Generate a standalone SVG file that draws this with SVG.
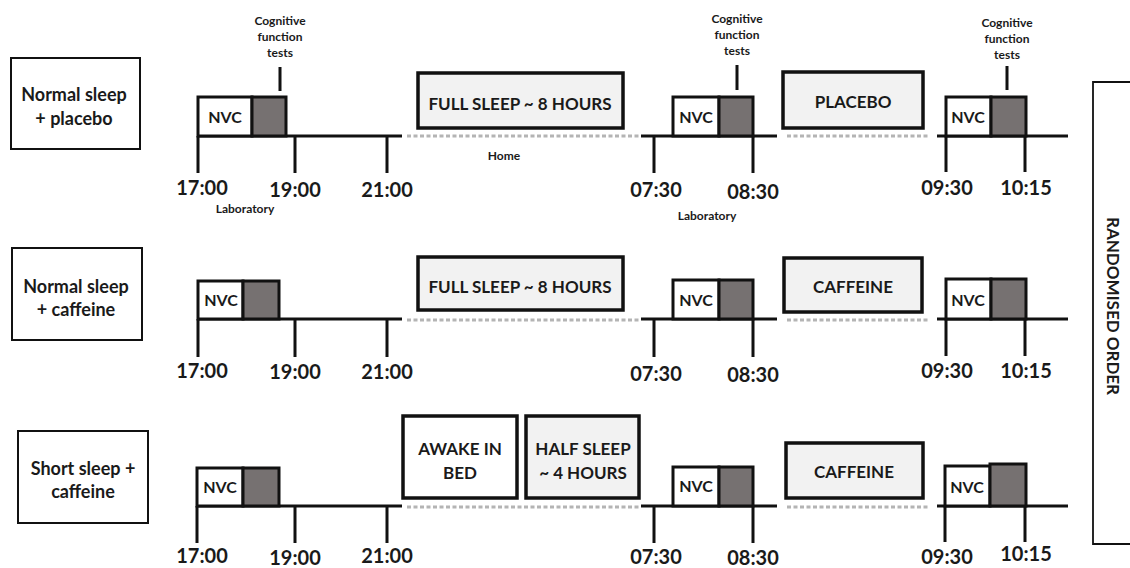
<svg xmlns="http://www.w3.org/2000/svg" width="1130" height="568" viewBox="0 0 1130 568">
<style>
text{font-family:Lato,"Open Sans","Liberation Sans",sans-serif;font-weight:bold;fill:#1a1a1a;text-anchor:middle}
.lbl{fill:#fff;stroke:#111;stroke-width:2}
.act{fill:#f2f2f2;stroke:#111;stroke-width:3.5}
.wht{fill:#fff;stroke:#111;stroke-width:3.5}
.nvc{fill:#fff;stroke:#111;stroke-width:3}
.cog{fill:#767171;stroke:#111;stroke-width:3}
.ln{stroke:#111;stroke-width:3;fill:none}
.dot{stroke:#b4b4b4;stroke-width:3;stroke-dasharray:4 2.5;fill:none}
.t1{font-size:18px}
.tm{font-size:20px}
.sm{font-size:12px}
.bx{font-size:17px}
.nv{font-size:16px}
</style>

<g id="row1-label"><rect class="lbl" x="11" y="58" width="129" height="91"/><text class="t1" x="74" y="101">Normal sleep</text><text class="t1" x="74" y="125">+ placebo</text></g>
<g id="row2-label"><rect class="lbl" x="12" y="248" width="130" height="92"/><text class="t1" x="76" y="293">Normal sleep</text><text class="t1" x="76" y="316">+ caffeine</text></g>
<g id="row3-label"><rect class="lbl" x="18" y="431" width="130" height="92"/><text class="t1" x="83" y="475">Short sleep +</text><text class="t1" x="83" y="498">caffeine</text></g>

<g id="connectors">
<path class="ln" d="M198 136H402M198 136V173M295 136V173M387 136V173M280 67V91"/>
<path class="dot" d="M407 136H640"/>
<path class="ln" d="M641 136H777M654 136V173M753 136V173M737 65V90"/>
<path class="dot" d="M787 136H930"/>
<path class="ln" d="M937 136H1068M946 136V172M1025 136V172M1007 66V90"/>

<path class="ln" d="M198 319H402M198 319V357M295 319V357M387 319V357"/>
<path class="dot" d="M407 320H640"/>
<path class="ln" d="M641 319H777M654 319V357M753 319V357"/>
<path class="dot" d="M787 320H930"/>
<path class="ln" d="M937 319H1068M946 319V356M1025 319V356"/>

<path class="ln" d="M197 506H402M197 506V543M295 506V543M387 506V543"/>
<path class="dot" d="M407 507H640"/>
<path class="ln" d="M641 506H777M654 506V543M753 506V543"/>
<path class="dot" d="M787 507H930"/>
<path class="ln" d="M937 506H1068M945 506V542M1025 506V542"/>
</g>

<g id="row1-nvc1"><rect class="nvc" x="198" y="97" width="54" height="39"/><rect class="cog" x="252" y="97" width="34" height="39"/><text class="nv" x="225" y="123">NVC</text></g>
<g id="row1-nvc2"><rect class="nvc" x="673" y="97" width="46" height="39"/><rect class="cog" x="719" y="97" width="34" height="39"/><text class="nv" x="696" y="123">NVC</text></g>
<g id="row1-nvc3"><rect class="nvc" x="946" y="97" width="45" height="39"/><rect class="cog" x="991" y="97" width="35" height="39"/><text class="nv" x="968" y="123">NVC</text></g>
<g id="row1-sleep"><rect class="act" x="418" y="73" width="205" height="55"/><text class="bx" x="520" y="110">FULL SLEEP ~ 8 HOURS</text></g>
<g id="row1-placebo"><rect class="act" x="783" y="72" width="140" height="56"/><text class="bx" x="853" y="108">PLACEBO</text></g>

<g id="row2-nvc1"><rect class="nvc" x="198" y="281" width="45" height="38"/><rect class="cog" x="243" y="281" width="36" height="38"/><text class="nv" x="221" y="306">NVC</text></g>
<g id="row2-nvc2"><rect class="nvc" x="673" y="280" width="46" height="39"/><rect class="cog" x="719" y="280" width="34" height="39"/><text class="nv" x="696" y="306">NVC</text></g>
<g id="row2-nvc3"><rect class="nvc" x="946" y="279" width="45" height="40"/><rect class="cog" x="991" y="279" width="35" height="40"/><text class="nv" x="968" y="306">NVC</text></g>
<g id="row2-sleep"><rect class="act" x="418" y="257" width="205" height="53"/><text class="bx" x="520" y="293">FULL SLEEP ~ 8 HOURS</text></g>
<g id="row2-caffeine"><rect class="act" x="784" y="258" width="138" height="54"/><text class="bx" x="853" y="293">CAFFEINE</text></g>

<g id="row3-nvc1"><rect class="nvc" x="197" y="468" width="46" height="38"/><rect class="cog" x="243" y="468" width="36" height="38"/><text class="nv" x="220" y="493">NVC</text></g>
<g id="row3-nvc2"><rect class="nvc" x="673" y="467" width="46" height="39"/><rect class="cog" x="719" y="467" width="34" height="39"/><text class="nv" x="696" y="492">NVC</text></g>
<g id="row3-nvc3"><rect class="nvc" x="945" y="466" width="45" height="40"/><rect class="cog" x="990" y="464" width="36" height="42"/><text class="nv" x="967" y="493">NVC</text></g>
<g id="row3-awake"><rect class="wht" x="403" y="416" width="114" height="82"/><text class="bx" x="460" y="455">AWAKE IN</text><text class="bx" x="460" y="479">BED</text></g>
<g id="row3-half"><rect class="act" x="526" y="416" width="113" height="82"/><text class="bx" x="583" y="455">HALF SLEEP</text><text class="bx" x="583" y="479">~ 4 HOURS</text></g>
<g id="row3-caffeine"><rect class="act" x="786" y="443" width="137" height="55"/><text class="bx" x="854" y="478">CAFFEINE</text></g>

<g id="cog-labels">
<text class="sm" x="280" y="25">Cognitive</text><text class="sm" x="280" y="41">function</text><text class="sm" x="280" y="57">tests</text>
<text class="sm" x="737" y="23">Cognitive</text><text class="sm" x="737" y="39">function</text><text class="sm" x="737" y="55">tests</text>
<text class="sm" x="1007" y="27">Cognitive</text><text class="sm" x="1007" y="43">function</text><text class="sm" x="1007" y="59">tests</text>
<text class="sm" x="245" y="213">Laboratory</text>
<text class="sm" x="504" y="160">Home</text>
<text class="sm" x="707" y="220">Laboratory</text>
</g>

<g id="times">
<text class="tm" x="202" y="195">17:00</text><text class="tm" x="295" y="197">19:00</text><text class="tm" x="387" y="197">21:00</text>
<text class="tm" x="656" y="197">07:30</text><text class="tm" x="753" y="199">08:30</text>
<text class="tm" x="947" y="195">09:30</text><text class="tm" x="1026" y="195">10:15</text>
<text class="tm" x="202" y="378">17:00</text><text class="tm" x="295" y="379">19:00</text><text class="tm" x="387" y="379">21:00</text>
<text class="tm" x="656" y="381">07:30</text><text class="tm" x="753" y="382">08:30</text>
<text class="tm" x="947" y="378">09:30</text><text class="tm" x="1026" y="378">10:15</text>
<text class="tm" x="202" y="563">17:00</text><text class="tm" x="295" y="565">19:00</text><text class="tm" x="387" y="563">21:00</text>
<text class="tm" x="656" y="564">07:30</text><text class="tm" x="753" y="565">08:30</text>
<text class="tm" x="947" y="564">09:30</text><text class="tm" x="1026" y="561">10:15</text>
</g>

<g id="randomised">
<path d="M1130 82H1093V544H1130" fill="none" stroke="#111" stroke-width="1.8"/>
<text font-size="17" transform="translate(1107 306) rotate(90)">RANDOMISED ORDER</text>
</g>
</svg>
